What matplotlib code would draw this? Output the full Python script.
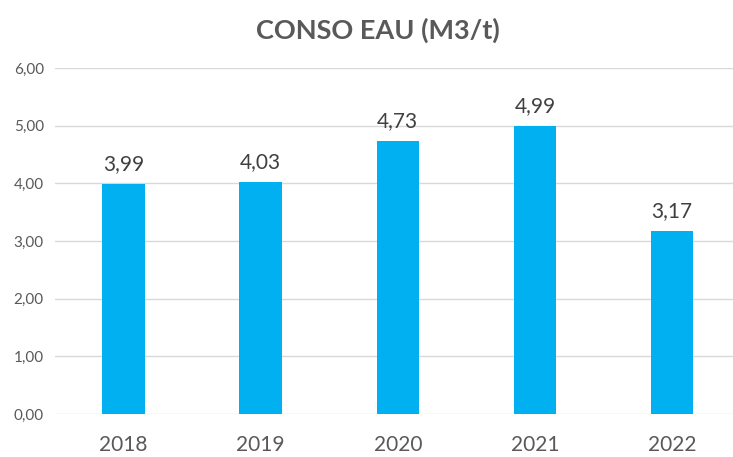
import matplotlib
matplotlib.use("Agg")
import matplotlib.pyplot as plt

# Data
years = ["2018", "2019", "2020", "2021", "2022"]
conso = [3.99, 4.03, 4.73, 4.99, 3.17]
y_ticks = [0, 1, 2, 3, 4, 5, 6]

plt.rcParams['font.family'] = ['Lato', 'DejaVu Sans']

fig = plt.figure(figsize=(7.33, 4.57), dpi=100)
ax = fig.add_axes([55 / 733, 43 / 457, (733 - 55) / 733, 346 / 457])

x = list(range(len(years)))
ax.bar(x, conso, width=0.31, color='#00B0F0', zorder=3)
for xi, v in zip(x, conso):
    ax.annotate(f"{v:.2f}".replace('.', ','), (xi, v), xytext=(0, 7), textcoords='offset points',
                ha='center', va='bottom', fontsize=15, color='#404040')

ax.set_xlim(-0.5, (733 - 55.5) / 137 - 0.5)
ax.set_ylim(0, 6)
ax.set_xticks(x)
ax.set_xticklabels(years, fontsize=15, color='#595959')
ax.set_yticks(y_ticks)
ax.set_yticklabels([f"{t:.2f}".replace('.', ',') for t in y_ticks], fontsize=11, color='#595959')
ax.tick_params(axis='both', length=0)
ax.tick_params(axis='x', pad=15)
ax.tick_params(axis='y', pad=8)
ax.grid(axis='y', color='#D9D9D9', linewidth=1, zorder=0)
for s in ax.spines.values():
    s.set_visible(False)

fig.text(378 / 733, 1 - 30 / 457, "CONSO EAU (M3/t)", ha='center', va='center',
         fontsize=19.5, fontweight='bold', color='#595959')

fig.savefig("out.png", dpi=100)
